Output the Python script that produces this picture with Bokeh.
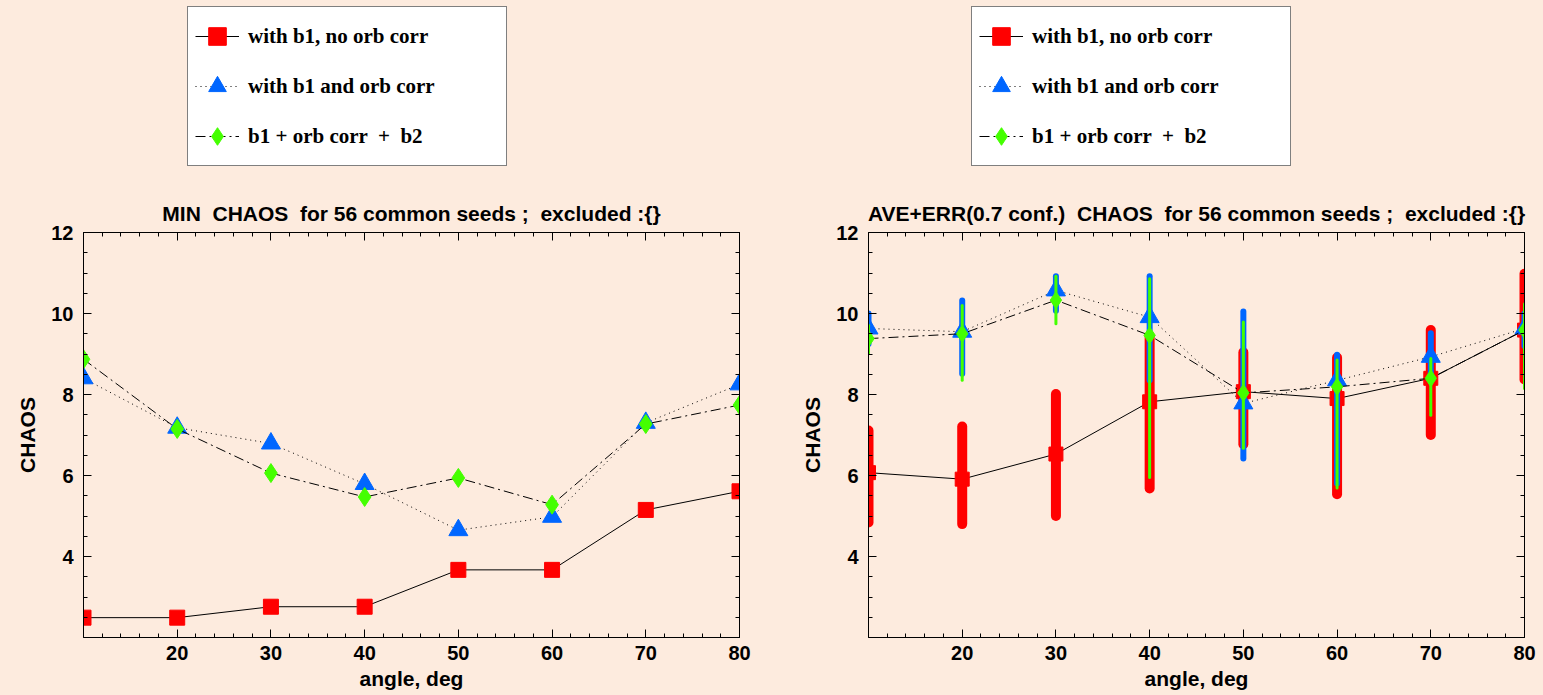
from bokeh.plotting import figure
from bokeh.layouts import row, column
from bokeh.models import (Range1d, FixedTicker, LinearAxis, Legend, LegendItem,
                          CustomJSTickFormatter)
from bokeh.embed import file_html
from bokeh.resources import INLINE

# ---------------- data ----------------
angles = [10, 20, 30, 40, 50, 60, 70, 80]
x_ticks = [20, 30, 40, 50, 60, 70, 80]
x_minor = [12, 14, 16, 18, 22, 24, 26, 28, 32, 34, 36, 38, 42, 44, 46, 48,
           52, 54, 56, 58, 62, 64, 66, 68, 72, 74, 76, 78]
y_ticks = [4, 6, 8, 10, 12]
y_minor = [2.5, 3, 3.5, 4.5, 5, 5.5, 6.5, 7, 7.5, 8.5, 9, 9.5, 10.5, 11, 11.5]

NB = "\u00a0"
series_labels = ["with b1, no orb corr", "with b1 and orb corr",
                 "b1 + orb corr " + NB + "+ " + NB + "b2"]

# left panel: minimum chaos
min_b1 = [2.49, 2.49, 2.76, 2.76, 3.67, 3.67, 5.15, 5.61]
min_orb = [8.40, 7.18, 6.79, 5.79, 4.65, 4.98, 7.30, 8.25]
min_b2 = [8.87, 7.15, 6.06, 5.47, 5.94, 5.28, 7.27, 7.74]

# right panel: average and error band (0.7 conf.)
ave_b1 = [6.07, 5.91, 6.53, 7.82, 8.07, 7.90, 8.40, 9.59]
lo_b1 = [4.84, 4.80, 5.00, 5.68, 6.77, 5.54, 7.00, 8.37]
hi_b1 = [7.11, 7.21, 8.01, 9.43, 9.04, 8.91, 9.59, 10.98]
ave_orb = [9.63, 9.55, 10.57, 9.91, 7.78, 8.35, 8.93, 9.63]
lo_orb = [9.25, 8.51, 10.07, 8.35, 6.42, 5.80, 8.35, 9.20]
hi_orb = [10.00, 10.32, 10.92, 10.92, 10.05, 8.98, 9.51, 10.00]
ave_b2 = [9.38, 9.50, 10.33, 9.46, 8.04, 8.19, 8.40, 9.59]
lo_b2 = [9.01, 8.35, 9.75, 5.95, 6.67, 5.69, 7.49, 8.15]
hi_b2 = [9.71, 10.20, 10.92, 10.86, 9.79, 8.85, 8.89, 10.24]

titles = ["MIN " + NB + "CHAOS " + NB + "for 56 common seeds ; " + NB + "excluded :{}",
          "AVE+ERR(0.7 conf.) " + NB + "CHAOS " + NB + "for 56 common seeds ; " + NB + "excluded :{}"]

# ---------------- style ----------------
BG = "#FDEBDE"
RED = "#FF0000"
BLUE = "#0066FF"
GREEN = "#44FF00"
SANS = "Liberation Sans"
SERIF = "Liberation Serif"
STRIP_H = 175


def make_fig(title, w, left, right):
    p = figure(width=w, height=695 - STRIP_H, output_backend="svg", toolbar_location=None,
               x_range=Range1d(10, 80), y_range=Range1d(2, 12),
               min_border_left=left, min_border_right=right,
               min_border_top=232 - STRIP_H, min_border_bottom=58,
               background_fill_color=BG, border_fill_color=BG,
               outline_line_color="black", outline_line_width=1)
    p.grid.visible = False
    p.title.text = title
    p.title.align = "center"
    p.title.text_font = SANS
    p.title.text_font_size = "21px"
    p.title.text_font_style = "bold"
    p.title.text_color = "black"
    p.title.standoff = 15

    p.xaxis.ticker = FixedTicker(ticks=x_ticks, minor_ticks=x_minor)
    p.yaxis.ticker = FixedTicker(ticks=y_ticks, minor_ticks=y_minor)
    p.xaxis.axis_label = "angle, deg"
    p.yaxis.axis_label = "CHAOS"
    for ax in (p.xaxis[0], p.yaxis[0]):
        ax.axis_line_color = "black"
        ax.major_tick_in = 8
        ax.major_tick_out = 0
        ax.minor_tick_in = 4
        ax.minor_tick_out = 0
        ax.major_tick_line_color = "black"
        ax.minor_tick_line_color = "black"
        ax.major_label_text_font = SANS
        ax.major_label_text_font_style = "bold"
        ax.major_label_text_font_size = "20px"
        ax.major_label_text_color = "black"
        ax.axis_label_text_font = SANS
        ax.axis_label_text_font_style = "bold"
        ax.axis_label_text_font_size = "21px"
        ax.axis_label_text_color = "black"
    p.xaxis.major_label_standoff = 8
    p.xaxis.axis_label_standoff = 4
    p.yaxis.major_label_standoff = 10
    p.yaxis.axis_label_standoff = 9

    blank = CustomJSTickFormatter(code="return ''")
    top = LinearAxis(ticker=FixedTicker(ticks=x_ticks, minor_ticks=x_minor),
                     formatter=blank, major_tick_in=8, major_tick_out=0,
                     minor_tick_in=4, minor_tick_out=0, major_label_standoff=0,
                     axis_line_color="black")
    rgt = LinearAxis(ticker=FixedTicker(ticks=y_ticks, minor_ticks=y_minor),
                     formatter=blank, major_tick_in=8, major_tick_out=0,
                     minor_tick_in=4, minor_tick_out=0, major_label_standoff=0,
                     axis_line_color="black")
    p.add_layout(top, "above")
    p.add_layout(rgt, "right")
    return p


def legend_strip(w, vx, ys, dashes, markers, sizes):
    """A strip above each panel holding the boxed legend (its own hidden renderers)."""
    s = figure(width=w, height=STRIP_H, output_backend="svg", toolbar_location=None,
               x_axis_type=None, y_axis_type=None,
               x_range=Range1d(10, 80), y_range=Range1d(2, 12),
               min_border=0, outline_line_color=None,
               background_fill_color=BG, border_fill_color=BG)
    s.grid.visible = False
    colors = [RED, BLUE, GREEN]
    items = []
    for lab, y, d, m, sz, c in zip(series_labels, ys, dashes, markers, sizes, colors):
        ln = s.line(angles, y, line_color="black", line_width=1, line_dash=d, visible=False)
        sc = s.scatter(angles, y, marker=m, size=sz, fill_color=c, line_color=c, visible=False)
        items.append(LegendItem(label=lab, renderers=[ln, sc]))
    leg = Legend(items=items, location=(vx, 9), glyph_width=44, glyph_height=44,
                 label_height=44, spacing=6, padding=7, margin=0, label_width=251,
                 label_standoff=9, border_line_color="black", border_line_width=1,
                 background_fill_color="white", background_fill_alpha=1,
                 inactive_fill_alpha=0,
                 label_text_font=SERIF, label_text_font_style="bold",
                 label_text_font_size="21px", label_text_color="black")
    s.add_layout(leg, "center")
    return s


DASHES = ["solid", "1 4", "10 4 2 4"]
MARKERS = ["square", "triangle", "diamond"]

# ---------------- left figure ----------------
p1 = make_fig(titles[0], 771, 83, 32)
p1.line(angles, min_b1, line_color="black", line_width=1)
p1.scatter(angles, min_b1, marker="square", size=15, fill_color=RED, line_color=RED)
p1.line(angles, min_orb, line_color="black", line_width=1, line_dash="1 4")
p1.scatter(angles, min_orb, marker="triangle", size=19, fill_color=BLUE, line_color=BLUE)
p1.line(angles, min_b2, line_color="black", line_width=1, line_dash="10 4 2 4")
p1.scatter(angles, min_b2, marker="diamond", size=19, fill_color=GREEN, line_color=GREEN)
s1 = legend_strip(771, 187, [min_b1, min_orb, min_b2], DASHES, MARKERS, [15, 19, 19])

# ---------------- right figure ----------------
p2 = make_fig(titles[1], 772, 97, 19)
p2.segment(angles, lo_b1, angles, hi_b1, line_color=RED, line_width=10, line_cap="round")
p2.line(angles, ave_b1, line_color="black", line_width=1)
p2.scatter(angles, ave_b1, marker="square", size=14, fill_color=RED, line_color=RED)
p2.segment(angles, lo_orb, angles, hi_orb, line_color=BLUE, line_width=6, line_cap="round")
p2.line(angles, ave_orb, line_color="black", line_width=1, line_dash="1 4")
p2.scatter(angles, ave_orb, marker="triangle", size=19, fill_color=BLUE, line_color=BLUE)
p2.segment(angles, lo_b2, angles, hi_b2, line_color=GREEN, line_width=3, line_cap="round")
p2.line(angles, ave_b2, line_color="black", line_width=1, line_dash="10 4 2 4")
p2.scatter(angles, ave_b2, marker="diamond", size=17, fill_color=GREEN, line_color=GREEN)
s2 = legend_strip(772, 200, [ave_b1, ave_orb, ave_b2], DASHES, MARKERS, [14, 19, 17])

layout = column(row(s1, s2, spacing=0), row(p1, p2, spacing=0), spacing=0)
layout.styles = {"background-color": BG}
open("out.html", "w").write(file_html(layout, INLINE))
